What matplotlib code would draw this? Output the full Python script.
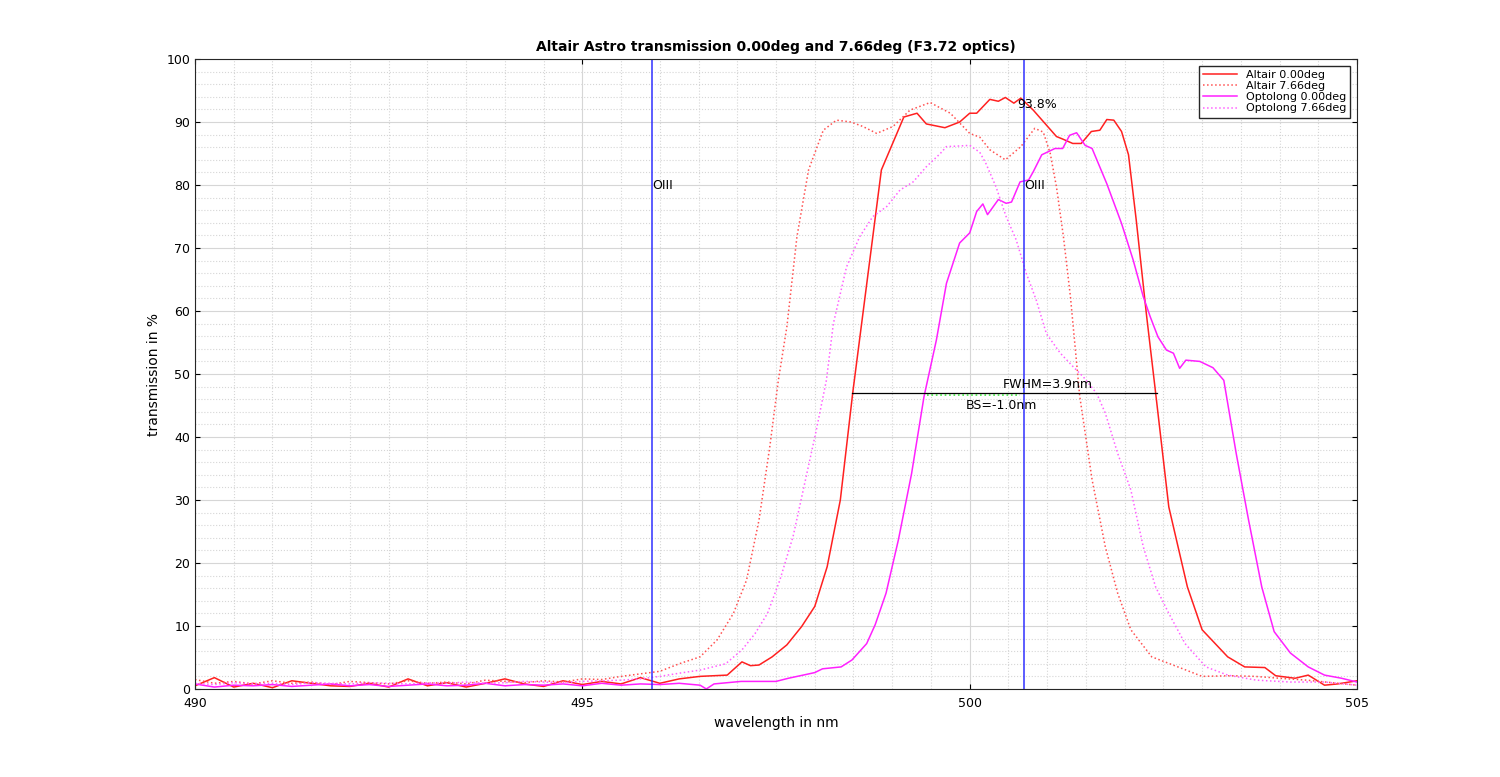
import matplotlib.pyplot as plt
from matplotlib.ticker import MultipleLocator

# baseline wavelengths shared by all series (490 .. 496.25 nm)
base_wl = [490.0, 490.25, 490.5, 490.75, 491.0, 491.25, 491.5, 491.75, 492.0, 492.25,
           492.5, 492.75, 493.0, 493.25, 493.5, 493.75, 494.0, 494.25, 494.5, 494.75,
           495.0, 495.25, 495.5, 495.75, 496.0, 496.25]

altair0_base = [0.5, 1.8, 0.3, 0.9, 0.2, 1.3, 0.9, 0.5, 0.4, 0.9, 0.3, 1.6, 0.5, 1.0,
                0.3, 0.9, 1.6, 0.8, 0.4, 1.3, 0.7, 1.2, 0.8, 1.8, 0.9, 1.6]
altair0_wl = [496.52, 496.87, 497.06, 497.17, 497.28, 497.45, 497.64, 497.83, 498.0, 498.16,
              498.33, 498.49, 498.86, 499.15, 499.32, 499.44, 499.68, 499.87, 500.0, 500.09,
              500.26, 500.37, 500.46, 500.57, 500.66, 500.82, 501.12, 501.2, 501.33, 501.44,
              501.57, 501.68, 501.77, 501.86, 501.96, 502.05, 502.15, 502.28, 502.4, 502.57,
              502.81, 503.0, 503.33, 503.55, 503.81, 503.95, 504.2, 504.37, 504.58, 504.75, 505.0]
altair0_val = [2.0, 2.2, 4.3, 3.7, 3.8, 5.1, 7.0, 9.9, 13.1, 19.4,
               30.0, 47.0, 82.4, 90.8, 91.4, 89.7, 89.1, 90.0, 91.4, 91.4,
               93.6, 93.3, 93.9, 93.0, 93.8, 91.9, 87.7, 87.3, 86.6, 86.6,
               88.5, 88.7, 90.4, 90.3, 88.5, 84.8, 74.4, 59.6, 47.0, 28.9,
               16.2, 9.4, 5.1, 3.5, 3.4, 2.1, 1.7, 2.2, 0.6, 0.8, 1.3]

altair7_base = [1.5, 0.9, 1.2, 0.8, 1.3, 0.9, 1.1, 0.7, 1.2, 1.0, 0.8, 1.3, 0.9, 1.1,
                0.8, 1.4, 1.2, 1.0, 1.3, 1.1, 1.6, 1.5, 2.0, 2.4, 2.8, 4.0]
altair7_wl = [496.52, 496.74, 496.95, 497.12, 497.28, 497.42, 497.53, 497.64, 497.77, 497.92,
              498.11, 498.28, 498.47, 498.62, 498.8, 499.01, 499.23, 499.49, 499.58, 499.75,
              500.0, 500.13, 500.26, 500.46, 500.66, 500.84, 500.95, 501.04, 501.12, 501.21,
              501.3, 501.42, 501.58, 501.75, 501.91, 502.08, 502.35, 502.73, 503.0, 503.38,
              503.68, 504.0, 504.35, 505.0]
altair7_val = [5.1, 7.8, 12.0, 17.3, 26.8, 38.5, 49.0, 57.5, 71.8, 82.4,
               88.7, 90.3, 90.0, 89.3, 88.2, 89.3, 91.9, 93.1, 92.5, 91.4,
               88.2, 87.6, 85.6, 84.0, 86.1, 89.0, 88.4, 85.0, 79.7, 71.8,
               62.3, 46.5, 33.2, 22.6, 15.2, 9.4, 5.1, 3.3, 2.0, 2.1,
               2.0, 1.7, 1.4, 0.6]

opto0_base = [0.8, 0.3, 0.6, 0.5, 0.7, 0.4, 0.6, 0.8, 0.5, 0.7, 0.4, 0.6, 0.8, 0.5,
              0.6, 0.9, 0.5, 0.7, 0.6, 0.8, 0.5, 0.9, 0.6, 0.8, 0.7, 0.9]
opto0_wl = [496.52, 496.6, 496.7, 497.05, 497.5, 497.66, 497.85, 498.0, 498.1, 498.34,
            498.48, 498.67, 498.78, 498.92, 499.08, 499.25, 499.41, 499.57, 499.7, 499.87,
            500.0, 500.09, 500.17, 500.23, 500.37, 500.47, 500.54, 500.65, 500.76, 500.82,
            500.93, 501.1, 501.2, 501.29, 501.38, 501.49, 501.58, 501.77, 501.96, 502.11,
            502.24, 502.33, 502.43, 502.54, 502.63, 502.71, 502.79, 502.97, 503.14, 503.28,
            503.44, 503.6, 503.77, 503.93, 504.14, 504.37, 504.58, 504.8, 505.0]
opto0_val = [0.6, 0.0, 0.8, 1.2, 1.2, 1.7, 2.2, 2.6, 3.2, 3.5,
             4.6, 7.2, 10.2, 15.2, 23.7, 34.2, 46.4, 55.4, 64.4, 70.8,
             72.4, 75.8, 77.0, 75.3, 77.7, 77.1, 77.3, 80.5, 80.8, 82.1,
             84.8, 85.8, 85.8, 87.9, 88.3, 86.3, 85.8, 80.2, 73.9, 68.1,
             62.3, 59.1, 55.9, 53.8, 53.3, 50.9, 52.2, 52.0, 51.0, 49.0,
             37.4, 26.8, 16.2, 9.1, 5.7, 3.5, 2.2, 1.7, 1.1]

opto7_base = [0.9, 0.7, 1.0, 0.8, 0.9, 0.7, 1.0, 0.9, 0.8, 1.0, 0.9, 0.8, 1.0, 0.9,
              1.1, 0.9, 1.0, 1.2, 1.1, 1.0, 1.2, 1.3, 1.4, 1.6, 2.0, 2.5]
opto7_wl = [496.52, 496.85, 497.06, 497.23, 497.39, 497.55, 497.72, 497.88, 498.02, 498.15,
            498.24, 498.41, 498.58, 498.75, 498.93, 499.1, 499.27, 499.44, 499.62, 499.7,
            499.87, 500.0, 500.13, 500.21, 500.34, 500.47, 500.6, 500.73, 500.86, 500.99,
            501.17, 501.34, 501.47, 501.64, 501.75, 501.91, 502.08, 502.24, 502.4, 502.57,
            502.78, 503.05, 503.33, 503.7, 504.14, 504.58, 505.0]
opto7_val = [3.0, 4.0, 6.2, 8.8, 12.0, 17.3, 24.2, 33.2, 41.1, 49.0,
             58.0, 67.0, 71.8, 75.0, 76.6, 79.2, 80.5, 82.9, 85.0, 86.1,
             86.2, 86.3, 85.2, 83.4, 79.7, 75.0, 71.3, 66.0, 61.7, 56.4,
             53.3, 51.1, 49.5, 46.9, 43.8, 37.4, 31.6, 22.6, 16.2, 12.0,
             7.2, 3.5, 2.2, 1.4, 1.1, 1.1, 0.6]

oiii_lines = [495.9, 500.7]
fwhm_range = (498.48, 502.42)
fwhm_level = 47.0
bs_range = (499.45, 500.65)
peak_wl, peak_val = 500.66, 93.8

fig = plt.figure(figsize=(15, 7.77), dpi=100)
ax = fig.add_axes([0.13, 0.1133, 0.7747, 0.8107])

ax.plot(base_wl + altair0_wl, altair0_base + altair0_val, color="#ff2020", lw=1.1, label="Altair 0.00deg")
ax.plot(base_wl + altair7_wl, altair7_base + altair7_val, color="#ff5050", lw=1.1, ls=":", label="Altair 7.66deg")
ax.plot(base_wl + opto0_wl, opto0_base + opto0_val, color="#ff20ff", lw=1.1, label="Optolong 0.00deg")
ax.plot(base_wl + opto7_wl, opto7_base + opto7_val, color="#ff60ff", lw=1.1, ls=":", label="Optolong 7.66deg")

for wl in oiii_lines:
    ax.plot([wl, wl], [0, 100], color="#3030ff", lw=1.1)
    ax.text(wl, 80, "OIII", fontsize=9, va="center", ha="left")

ax.plot(fwhm_range, [fwhm_level, fwhm_level], color="k", lw=0.9)
ax.plot(bs_range, [fwhm_level - 0.3, fwhm_level - 0.3], color="#40e040", lw=1.2, ls=":")
ax.text(500.43, fwhm_level + 0.3, "FWHM=3.9nm", fontsize=9, va="bottom")
ax.text(499.95, fwhm_level - 1.0, "BS=-1.0nm", fontsize=9, va="top")
ax.text(peak_wl - 0.05, peak_val - 1.0, "93.8%", fontsize=9, va="center")

ax.set_xlim(490, 505)
ax.set_ylim(0, 100)
ax.xaxis.set_major_locator(MultipleLocator(5))
ax.xaxis.set_minor_locator(MultipleLocator(0.5))
ax.yaxis.set_major_locator(MultipleLocator(10))
ax.yaxis.set_minor_locator(MultipleLocator(2))
ax.grid(which="major", color="#d6d6d6", lw=0.8)
ax.grid(which="minor", color="#d6d6d6", lw=0.8, ls=":")
ax.set_axisbelow(True)
ax.tick_params(which="both", direction="in", top=True, right=True, labelsize=9)
ax.tick_params(axis="x", pad=6)
ax.tick_params(which="minor", length=0)
for s in ax.spines.values():
    s.set_color("#262626")
ax.set_xlabel("wavelength in nm", fontsize=10)
ax.set_ylabel("transmission in %", fontsize=10)
ax.set_title("Altair Astro transmission 0.00deg and 7.66deg (F3.72 optics)", fontsize=10, fontweight="bold")
ax.legend(loc="upper right", fontsize=8, fancybox=False, framealpha=1, edgecolor="#262626",
          borderaxespad=0.6, handlelength=3, labelspacing=0.1)

fig.savefig("out.png")
